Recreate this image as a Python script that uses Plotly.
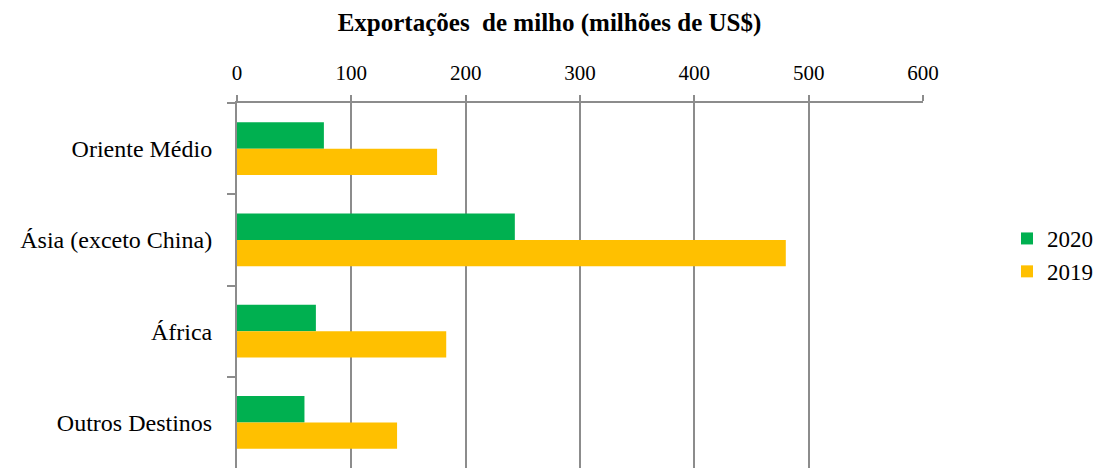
import plotly.graph_objects as go

categories = ["Oriente Médio", "Ásia (exceto China)", "África", "Outros Destinos"]
values_2020 = [76, 243, 69, 59]
values_2019 = [175, 480, 183, 140]
x_ticks = [0, 100, 200, 300, 400, 500, 600]
title_text = "Exportações\u00a0 de milho (milhões de US$)"

FONT = "'Liberation Serif', 'Times New Roman', serif"
GRAY = "#8c8c8c"

fig = go.Figure()
fig.add_trace(go.Bar(y=categories, x=values_2020, name="2020", orientation="h",
                     marker=dict(color="#00B050", line=dict(width=0))))
fig.add_trace(go.Bar(y=categories, x=values_2019, name="2019", orientation="h",
                     marker=dict(color="#FFC000", line=dict(width=0))))

fig.update_layout(
    width=1099, height=468,
    margin=dict(l=237, r=176, t=103, b=0, autoexpand=False),
    paper_bgcolor="white", plot_bgcolor="white",
    barmode="group", bargap=0.42, bargroupgap=0,
    font=dict(family=FONT, size=21, color="black"),
    title=dict(text="<b>" + title_text + "</b>", x=0.5, xref="container",
               y=1 - 22 / 468, yref="container", yanchor="middle",
               font=dict(family=FONT, size=25, color="black")),
    legend=dict(x=1007 / 1099, xref="container", xanchor="left",
                y=1 - 255 / 468, yref="container", yanchor="middle",
                font=dict(family=FONT, size=23, color="black"),
                traceorder="normal", bgcolor="rgba(0,0,0,0)"),
    xaxis=dict(side="top", range=[0, 600], tickvals=x_ticks,
               ticktext=[str(v) for v in x_ticks], automargin=False,
               showgrid=True, gridcolor=GRAY, gridwidth=2,
               showline=True, linecolor=GRAY, linewidth=2,
               ticks="outside", ticklen=6, tickcolor=GRAY, tickwidth=2,
               zeroline=False, ticklabelstandoff=7,
               tickfont=dict(family=FONT, size=21, color="black")),
    yaxis=dict(autorange="reversed", showgrid=False, automargin=False,
               showline=True, linecolor=GRAY, linewidth=2,
               ticks="outside", tickson="boundaries", ticklen=8,
               tickcolor=GRAY, tickwidth=2, ticklabelstandoff=18,
               tickfont=dict(family=FONT, size=24, color="black")),
)

fig.write_html("out.html", config={"displayModeBar": False},
               post_script="document.body.style.margin='0';document.body.style.overflow='hidden';")
